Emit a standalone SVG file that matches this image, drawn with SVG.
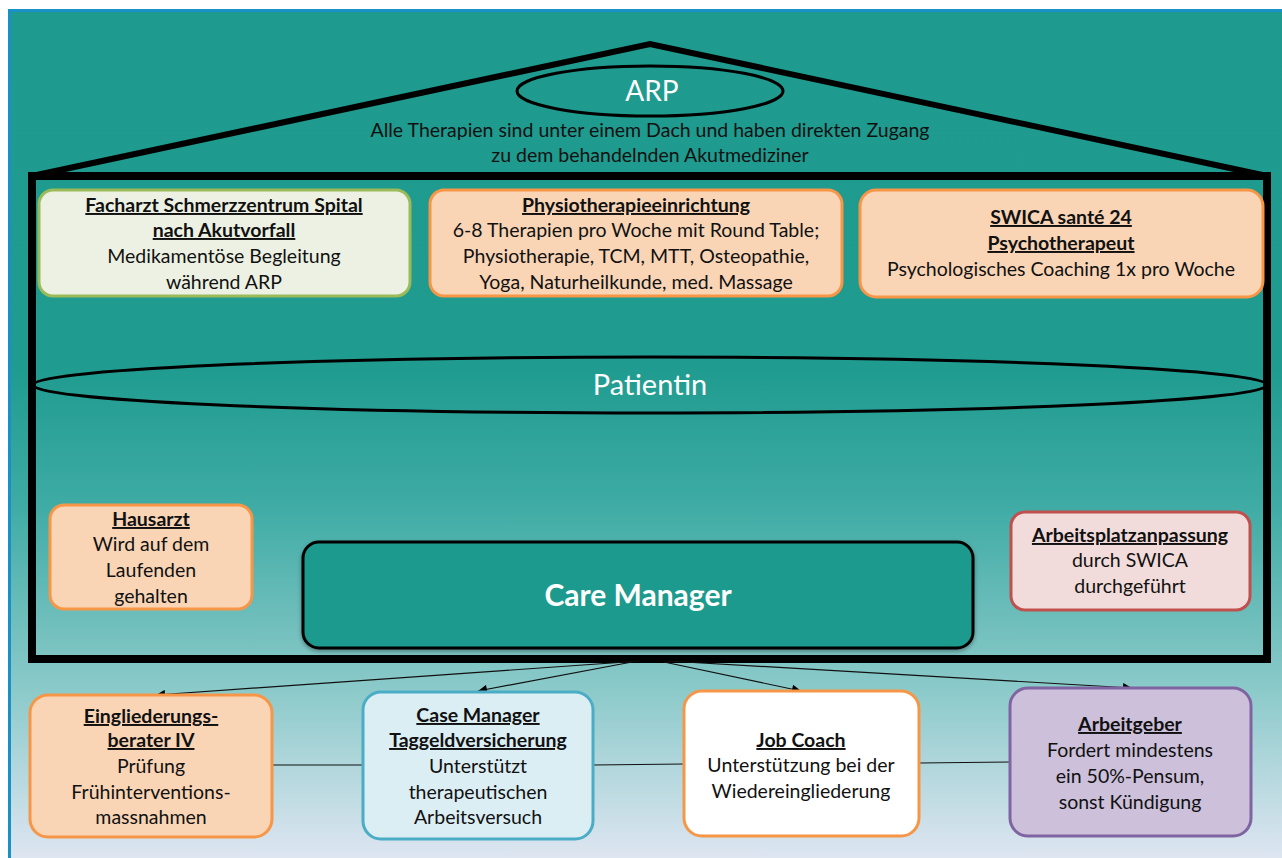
<svg xmlns="http://www.w3.org/2000/svg" width="1282" height="858" viewBox="0 0 1282 858">
<defs>
<linearGradient id="bg" x1="0" y1="0" x2="0" y2="1">
<stop offset="0" stop-color="#1e9a8e"/>
<stop offset="0.42" stop-color="#1f9b8f"/>
<stop offset="0.58" stop-color="#3eaba4"/>
<stop offset="0.8" stop-color="#8ccaca"/>
<stop offset="1" stop-color="#dfe6f2"/>
</linearGradient>
<filter id="sh" x="-5%" y="-10%" width="110%" height="125%">
<feDropShadow dx="0" dy="2" stdDeviation="2" flood-color="#000" flood-opacity="0.35"/>
</filter>
<marker id="ah" viewBox="0 0 10 10" refX="10" refY="5" markerWidth="11" markerHeight="9" markerUnits="userSpaceOnUse" orient="auto">
<path d="M0,0 L10,5 L0,10 z" fill="#000"/>
</marker>
</defs>
<style>
text{font-family:Lato,"Open Sans","Liberation Sans",sans-serif;font-size:19.5px;fill:#111;text-anchor:middle}
.h{font-weight:bold;text-decoration:underline}
.w{fill:#fff}
.box{stroke-width:3}
.peach{fill:#f9d5b6;stroke:#f79646}
.green{fill:#edf1e3;stroke:#9bbb59}
.pink{fill:#f2dcdb;stroke:#c0504d}
.blue{fill:#dbeef4;stroke:#4bacc6}
.white{fill:#fff;stroke:#f79646}
.purple{fill:#ccc0da;stroke:#8064a2}
.con{stroke:#111;stroke-width:1.2;fill:none}
</style>
<rect x="0" y="0" width="1282" height="858" fill="#fff"/>
<rect x="9.5" y="10.5" width="1280" height="850" fill="url(#bg)" stroke="#1a90c8" stroke-width="3"/>

<g id="house">
<rect x="32" y="176" width="1235" height="483" fill="none" stroke="#000" stroke-width="8"/>
<polyline points="32,176 650,44 1267,176" fill="none" stroke="#000" stroke-width="6" stroke-linejoin="miter"/>
</g>

<g id="arp">
<ellipse cx="650" cy="91" rx="133" ry="25" fill="none" stroke="#000" stroke-width="3"/>
<text x="652" y="101" class="w" style="font-size:28px">ARP</text>
<text x="650" y="137">Alle Therapien sind unter einem Dach und haben direkten Zugang</text>
<text x="650" y="162">zu dem behandelnden Akutmediziner</text>
</g>

<g id="facharzt">
<rect x="39" y="190" width="371" height="106" rx="14" class="box green"/>
<text x="224" y="212" class="h">Facharzt Schmerzzentrum Spital</text>
<text x="224" y="237" class="h">nach Akutvorfall</text>
<text x="224" y="263">Medikamentöse Begleitung</text>
<text x="224" y="289">während ARP</text>
</g>

<g id="physio">
<rect x="430" y="190" width="412" height="106" rx="14" class="box peach"/>
<text x="636" y="212" class="h">Physiotherapieeinrichtung</text>
<text x="636" y="237">6-8 Therapien pro Woche mit Round Table;</text>
<text x="636" y="263">Physiotherapie, TCM, MTT, Osteopathie,</text>
<text x="636" y="289">Yoga, Naturheilkunde, med. Massage</text>
</g>

<g id="swica">
<rect x="860" y="190" width="403" height="107" rx="16" class="box peach"/>
<text x="1061" y="224" class="h">SWICA santé 24</text>
<text x="1061" y="250" class="h">Psychotherapeut</text>
<text x="1061" y="276">Psychologisches Coaching 1x pro Woche</text>
</g>

<g id="patientin">
<ellipse cx="650" cy="385" rx="617" ry="28" fill="none" stroke="#000" stroke-width="3"/>
<text x="650" y="395" class="w" style="font-size:29px">Patientin</text>
</g>

<g id="hausarzt">
<rect x="50" y="505" width="202" height="104" rx="14" class="box peach"/>
<text x="151" y="526" class="h">Hausarzt</text>
<text x="151" y="551">Wird auf dem</text>
<text x="151" y="577">Laufenden</text>
<text x="151" y="603">gehalten</text>
</g>

<g id="caremanager">
<rect x="303" y="542" width="670" height="106" rx="16" fill="#1f9a8e" stroke="#000" stroke-width="3" filter="url(#sh)"/>
<text x="638" y="606" class="w" style="font-size:30px;font-weight:bold">Care Manager</text>
</g>

<g id="arbeitsplatz">
<rect x="1011" y="512" width="239" height="98" rx="14" class="box pink"/>
<text x="1130" y="542" class="h">Arbeitsplatzanpassung</text>
<text x="1130" y="567">durch SWICA</text>
<text x="1130" y="593">durchgeführt</text>
</g>

<g id="connectors">
<line x1="272" y1="765" x2="363" y2="765" class="con"/>
<line x1="593" y1="765" x2="684" y2="764" class="con"/>
<line x1="919" y1="763" x2="1010" y2="762" class="con"/>
<line x1="640" y1="661" x2="156" y2="695" class="con" marker-end="url(#ah)"/>
<line x1="632" y1="662" x2="478" y2="691" class="con" marker-end="url(#ah)"/>
<line x1="664" y1="662" x2="801" y2="691" class="con" marker-end="url(#ah)"/>
<line x1="668" y1="661" x2="1132" y2="688" class="con" marker-end="url(#ah)"/>
</g>

<g id="eingliederung">
<rect x="30" y="695" width="242" height="142" rx="18" class="box peach"/>
<text x="151" y="723" class="h">Eingliederungs-</text>
<text x="151" y="747" class="h">berater IV</text>
<text x="151" y="773">Prüfung</text>
<text x="151" y="799">Frühinterventions-</text>
<text x="151" y="824">massnahmen</text>
</g>

<g id="casemanager">
<rect x="363" y="692" width="230" height="147" rx="18" class="box blue"/>
<text x="478" y="722" class="h">Case Manager</text>
<text x="478" y="747" class="h">Taggeldversicherung</text>
<text x="478" y="773">Unterstützt</text>
<text x="478" y="799">therapeutischen</text>
<text x="478" y="824">Arbeitsversuch</text>
</g>

<g id="jobcoach">
<rect x="684" y="691" width="235" height="145" rx="18" class="box white"/>
<text x="801" y="747" class="h">Job Coach</text>
<text x="801" y="772">Unterstützung bei der</text>
<text x="801" y="798">Wiedereingliederung</text>
</g>

<g id="arbeitgeber">
<rect x="1010" y="688" width="241" height="148" rx="18" class="box purple"/>
<text x="1130" y="731" class="h">Arbeitgeber</text>
<text x="1130" y="757">Fordert mindestens</text>
<text x="1130" y="783">ein 50%-Pensum,</text>
<text x="1130" y="809">sonst Kündigung</text>
</g>
</svg>
